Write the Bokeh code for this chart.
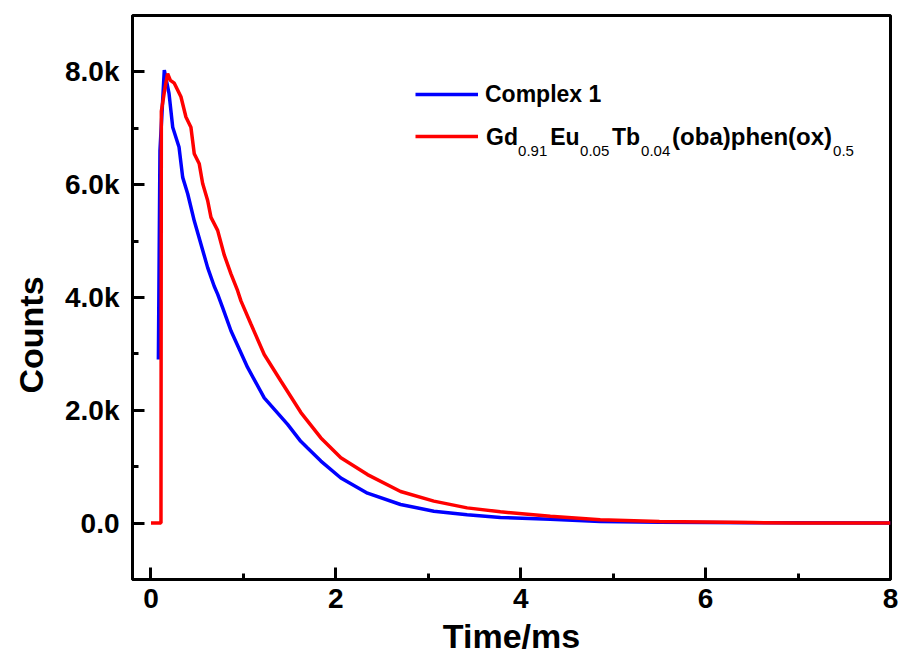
from bokeh.plotting import figure
from bokeh.models import FixedTicker, Legend, LegendItem, Label, Title, ColumnDataSource
from bokeh.embed import file_html
from bokeh.resources import INLINE

# ---- data ----
complex1_time = [0.08, 0.097, 0.144, 0.195, 0.235, 0.303, 0.343, 0.397, 0.468, 0.54,
                 0.613, 0.684, 0.721, 0.775, 0.865, 1.045, 1.225, 1.478, 1.62, 1.694,
                 1.838, 2.054, 2.342, 2.70, 3.06, 3.42, 3.78, 4.32, 4.86, 5.5, 6.5, 8.0]
complex1_counts = [2900, 6600, 8030, 7620, 7020, 6670, 6130, 5840, 5360, 4950,
                   4530, 4200, 4060, 3820, 3410, 2760, 2220, 1750, 1450, 1330,
                   1100, 800, 530, 330, 210, 150, 100, 70, 30, 15, 5, 0]

doped_time = [0.0, 0.108, 0.112, 0.15, 0.18, 0.21, 0.252, 0.324, 0.378, 0.432,
              0.468, 0.522, 0.559, 0.613, 0.649, 0.721, 0.793, 0.865, 0.937, 0.973,
              1.081, 1.225, 1.405, 1.622, 1.838, 2.054, 2.342, 2.70, 3.06, 3.42,
              3.78, 4.32, 4.86, 5.5, 6.5, 7.0, 8.0]
doped_counts = [0, 0, 7300, 7700, 7970, 7850, 7800, 7560, 7200, 7020,
                6550, 6370, 6020, 5720, 5420, 5190, 4750, 4420, 4120, 3940,
                3530, 2990, 2520, 1960, 1510, 1160, 860, 560, 390, 270,
                200, 120, 60, 30, 10, 0, 0]

x_major_ticks = [0, 2, 4, 6, 8]
x_minor_ticks = [1, 3, 5, 7]
y_major_ticks = [0, 2000, 4000, 6000, 8000]
y_minor_ticks = [1000, 3000, 5000, 7000]
y_tick_labels = ["0.0", "2.0k", "4.0k", "6.0k", "8.0k"]

series_names = ["Complex 1", ""]
formula_parts = ["Gd", "0.91", "Eu", "0.05", "Tb", "0.04", "(oba)phen(ox)", "0.5"]

FONT = "Liberation Sans"

p = figure(width=900, height=662, x_range=(-0.2, 8), y_range=(-1000, 9000),
           output_backend="svg", toolbar_location=None,
           min_border_left=132, min_border_right=10, min_border_top=15, min_border_bottom=83)

p.grid.visible = False
p.background_fill_color = "white"
p.outline_line_color = "black"
p.outline_line_width = 3
p.outline_line_alpha = 1

src_b = ColumnDataSource(dict(t=complex1_time, c=complex1_counts))
src_r = ColumnDataSource(dict(t=doped_time, c=doped_counts))
r_blue = p.line("t", "c", source=src_b, line_color="#0000ff", line_width=3.5)
r_red = p.line("t", "c", source=src_r, line_color="#ff0000", line_width=3.5)

for ax in (p.xaxis[0], p.yaxis[0]):
    ax.axis_line_width = 3
    ax.axis_line_color = "black"
    ax.major_tick_in = 12
    ax.major_tick_out = 0
    ax.minor_tick_in = 6
    ax.minor_tick_out = 0
    ax.major_tick_line_width = 3
    ax.minor_tick_line_width = 3
    ax.major_label_text_font = FONT
    ax.major_label_text_font_style = "bold"
    ax.major_label_text_font_size = "28px"
    ax.major_label_text_color = "black"
    ax.axis_label_text_font = FONT
    ax.axis_label_text_font_style = "bold"
    ax.axis_label_text_font_size = "34px"
    ax.axis_label_text_color = "black"

p.xaxis.ticker = FixedTicker(ticks=x_major_ticks, minor_ticks=x_minor_ticks)
p.yaxis.ticker = FixedTicker(ticks=y_major_ticks, minor_ticks=y_minor_ticks)
p.yaxis.major_label_overrides = {v: s for v, s in zip(y_major_ticks, y_tick_labels)}
p.xaxis.axis_label = "Time/ms"
p.xaxis.major_label_standoff = 9
p.xaxis.axis_label_standoff = 6
p.yaxis.major_label_standoff = 13

# y-axis title (sits below the axis centre in the reference)
p.add_layout(Title(text="Counts", align="left", offset=186, standoff=21,
                   vertical_align="top",
                   text_font=FONT, text_font_style="bold", text_font_size="34px",
                   text_color="black"), "left")

legend = Legend(items=[LegendItem(label=series_names[0], renderers=[r_blue]),
                       LegendItem(label=" ", renderers=[r_red])],
                location=(283, 428), glyph_width=63, glyph_height=30, label_height=30,
                spacing=12, padding=0, margin=0, label_standoff=7,
                border_line_alpha=0, background_fill_alpha=0,
                label_text_font=FONT, label_text_font_style="bold",
                label_text_font_size="23px", label_text_color="black")
p.add_layout(legend)

# formula with subscripts (legend label of second series)
part_x = [3.625, 3.971, 4.318, 4.642, 4.988, 5.302, 5.637, 7.379]
part_y = [6854, 6606, 6854, 6606, 6854, 6606, 6854, 6606]
part_size = ["23px", "15px", "23px", "15px", "23px", "15px", "24px", "15px"]
for i, txt in enumerate(formula_parts):
    sub = (i % 2 == 1)
    p.add_layout(Label(x=part_x[i], y=part_y[i], text=txt, text_font=FONT,
                       text_font_style="normal" if sub else "bold",
                       text_font_size=part_size[i],
                       text_baseline="alphabetic", text_align="left",
                       text_color="black"))

open("out.html", "w").write(file_html(p, INLINE))
